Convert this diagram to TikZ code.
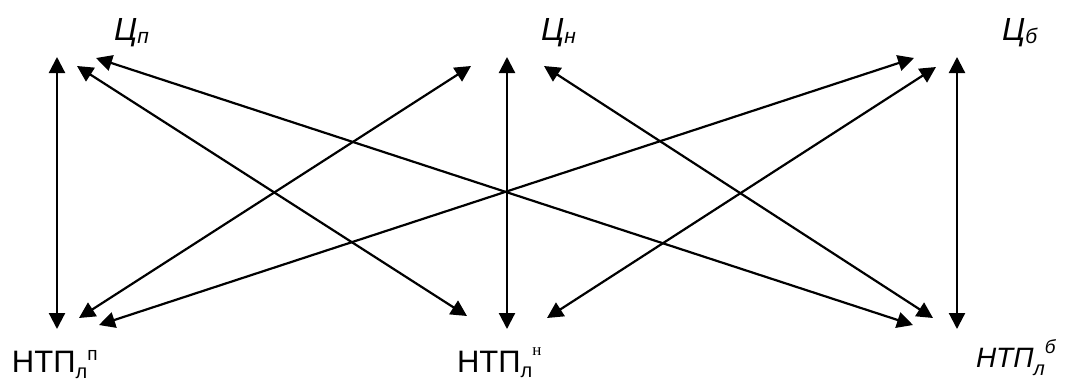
\documentclass[tikz,border=0pt]{standalone}
\usepackage{fontspec}
\setmainfont{Liberation Sans}
\newfontfamily\serifcyr{Liberation Serif}
\usetikzlibrary{arrows.meta}
\tikzset{
  link/.style={draw=black, line width=2.2pt, {Triangle[length=16pt,width=16pt]}-{Triangle[length=16pt,width=16pt]}},
  lab/.style={inner sep=0pt, outer sep=0pt, anchor=base west}
}
\begin{document}
\begin{tikzpicture}[x=1pt,y=-1pt]
\useasboundingbox (0,0) rectangle (1070,381);
% end points
\coordinate (lt) at (57,57);  \coordinate (lb) at (57,329);
\coordinate (a1) at (77,66);  \coordinate (a2) at (467,316);
\coordinate (b1) at (96,58);  \coordinate (b2) at (913,325);
\coordinate (c1) at (79,318); \coordinate (c2) at (471,66);
\coordinate (d1) at (99,325); \coordinate (d2) at (914,58);
\coordinate (mt) at (507,57); \coordinate (mb) at (507,329);
\coordinate (e1) at (544,66); \coordinate (e2) at (933,318);
\coordinate (f1) at (547,318);\coordinate (f2) at (936,67);
\coordinate (rt) at (957,57); \coordinate (rb) at (957,329);
% connectors
\draw[link] (lt) -- (lb);
\draw[link] (a1) -- (a2);
\draw[link] (b1) -- (b2);
\draw[link] (c1) -- (c2);
\draw[link] (d1) -- (d2);
\draw[link] (mt) -- (mb);
\draw[link] (e1) -- (e2);
\draw[link] (f1) -- (f2);
\draw[link] (rt) -- (rb);
% labels
\node[lab] (cp) at (114,40) {\fontsize{32}{32}\selectfont\itshape Ц\raisebox{-3pt}{\fontsize{21}{21}\selectfont п}};
\node[lab] (cn) at (541,40) {\fontsize{32}{32}\selectfont\itshape Ц\raisebox{-3pt}{\fontsize{21}{21}\selectfont н}};
\node[lab] (cb) at (1002,40) {\fontsize{32}{32}\selectfont\itshape Ц\raisebox{-3pt}{\fontsize{21}{21}\selectfont б}};
\node[lab] (np) at (12,372) {\fontsize{31}{31}\selectfont НТП\raisebox{-6pt}{\fontsize{20}{20}\selectfont л}\raisebox{12pt}{\fontsize{19}{19}\selectfont п}};
\node[lab] (nn) at (457,372) {\fontsize{31}{31}\selectfont НТП\raisebox{-5pt}{\fontsize{20}{20}\selectfont л}\raisebox{17pt}{\fontsize{17}{17}\selectfont\serifcyr н}};
\node[lab] (nb) at (976,367) {\fontsize{28}{28}\selectfont\itshape НТП\raisebox{-8pt}{\fontsize{20}{20}\selectfont л}\raisebox{14pt}{\fontsize{19}{19}\selectfont б}};
\end{tikzpicture}
\end{document}
